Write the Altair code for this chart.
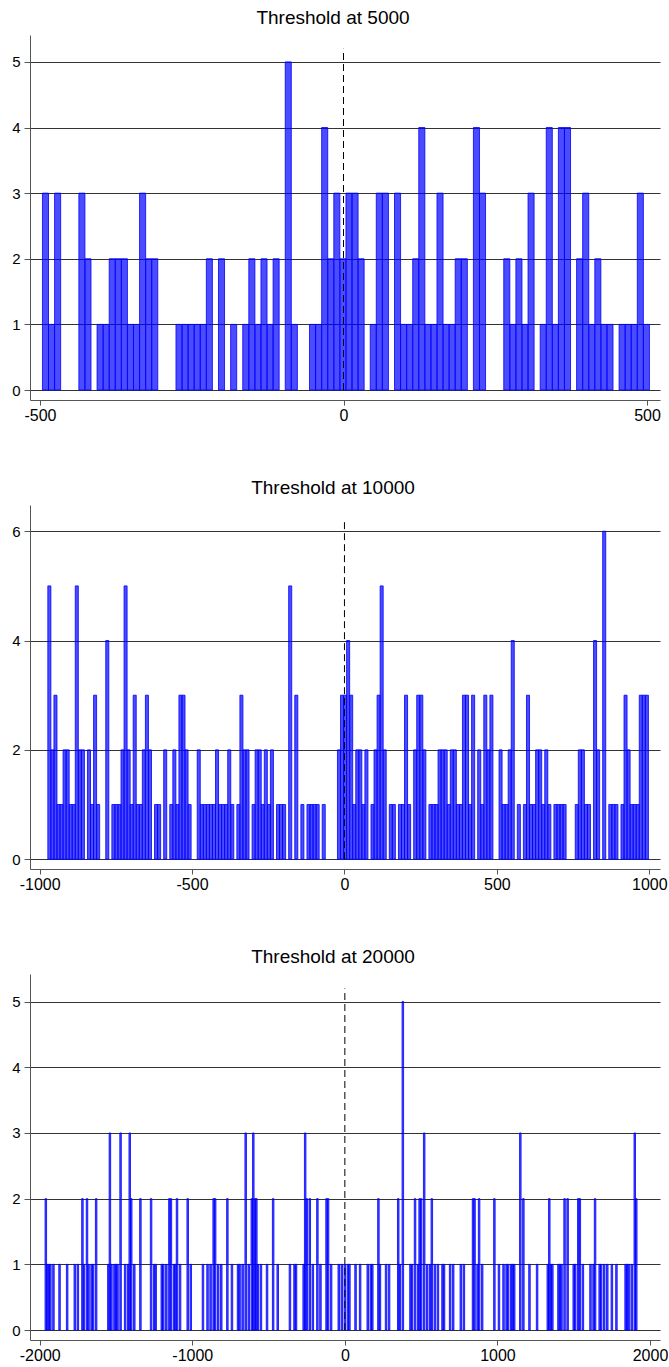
import altair as alt
import pandas as pd

# ---------------- data ----------------
titles = ["Threshold at 5000", "Threshold at 10000", "Threshold at 20000"]

# Panel 1: bins of width 10 starting at -496
p1_start = -496
p1_width = 10
p1_counts = [3, 1, 3, 0, 0, 0, 3, 2, 0, 1,
             1, 2, 2, 2, 1, 1, 3, 2, 2, 0,
             0, 0, 1, 1, 1, 1, 1, 2, 0, 2,
             0, 1, 0, 1, 2, 1, 2, 1, 2, 0,
             5, 1, 0, 0, 1, 1, 4, 2, 3, 2,
             3, 3, 2, 0, 1, 3, 3, 0, 3, 1,
             1, 2, 4, 1, 1, 3, 1, 1, 2, 2,
             0, 4, 3, 0, 0, 0, 2, 1, 2, 1,
             3, 0, 1, 4, 1, 4, 4, 0, 2, 3,
             1, 2, 1, 1, 0, 1, 1, 1, 3, 1]

# Panel 2: bins of width 10 starting at -973
p2_start = -973
p2_width = 10
p2_counts = [5, 2, 3, 1, 1, 2, 2, 1, 1, 5,
             2, 2, 0, 2, 1, 3, 1, 0, 0, 4,
             0, 1, 1, 1, 2, 5, 2, 1, 3, 1,
             1, 2, 3, 2, 0, 1, 1, 0, 2, 0,
             1, 2, 1, 3, 3, 2, 1, 0, 0, 2,
             1, 1, 1, 1, 1, 2, 1, 1, 1, 2,
             1, 0, 1, 3, 2, 2, 0, 1, 2, 2,
             1, 2, 1, 2, 0, 1, 1, 1, 0, 5,
             0, 3, 0, 1, 0, 1, 1, 1, 1, 0,
             1, 0, 0, 0, 0, 2, 3, 3, 4, 3,
             1, 2, 2, 1, 2, 0, 1, 2, 3, 5,
             2, 0, 1, 1, 0, 1, 1, 3, 1, 0,
             2, 3, 3, 2, 0, 1, 1, 1, 2, 2,
             2, 1, 2, 2, 1, 1, 3, 3, 1, 3,
             0, 2, 1, 3, 2, 3, 0, 0, 2, 1,
             1, 2, 4, 0, 1, 0, 1, 3, 1, 1,
             2, 2, 1, 2, 1, 0, 1, 1, 1, 1,
             0, 0, 0, 1, 2, 2, 1, 1, 0, 4,
             2, 0, 6, 0, 1, 1, 1, 0, 1, 3,
             2, 1, 1, 1, 3, 3, 3]

# Panel 3: bins of width 10, non-empty bins only (left edges and counts)
p3_width = 10
p3_edges = [-1965, -1955, -1945, -1935, -1915, -1875, -1825, -1775, -1755, -1725,
            -1715, -1695, -1685, -1665, -1655, -1635, -1555, -1545, -1535, -1515,
            -1505, -1495, -1475, -1445, -1425, -1415, -1405, -1385, -1345, -1275,
            -1255, -1245, -1205, -1195, -1175, -1155, -1145, -1125, -1115, -1105,
            -1085, -1035, -1015, -935, -905, -885, -865, -855, -835, -815,
            -775, -745, -705, -695, -675, -655, -635, -615, -605, -595,
            -585, -575, -555, -515, -475, -445, -365, -335, -325, -275,
            -265, -255, -235, -215, -185, -165, -125, -115, -95, -45,
            -25, -5, 15, 25, 65, 95, 145, 165, 175, 215,
            225, 265, 285, 345, 355, 375, 425, 435, 455, 475,
            485, 495, 515, 535, 555, 565, 585, 605, 635, 645,
            685, 705, 755, 775, 835, 845, 865, 875, 895, 975,
            1005, 1035, 1055, 1065, 1085, 1095, 1105, 1145, 1165, 1205,
            1255, 1325, 1335, 1345, 1355, 1395, 1405, 1415, 1435, 1455,
            1495, 1505, 1525, 1535, 1555, 1605, 1625, 1635, 1665, 1675,
            1695, 1715, 1745, 1775, 1835, 1845, 1855, 1875, 1895, 1905]
p3_counts = [2, 1, 1, 1, 1, 1, 1, 1, 1, 2,
             1, 2, 1, 1, 1, 2, 1, 3, 1, 1,
             1, 1, 3, 1, 1, 3, 2, 1, 2, 2,
             1, 1, 1, 1, 1, 2, 2, 1, 1, 2,
             1, 2, 1, 1, 1, 1, 2, 2, 1, 1,
             2, 1, 1, 1, 1, 3, 1, 2, 3, 2,
             2, 1, 1, 1, 2, 1, 1, 1, 1, 1,
             3, 2, 2, 1, 2, 1, 2, 2, 1, 1,
             1, 1, 1, 1, 1, 1, 1, 1, 1, 2,
             1, 1, 1, 2, 1, 5, 1, 1, 2, 1,
             2, 2, 3, 1, 1, 2, 1, 1, 1, 1,
             1, 1, 1, 1, 2, 2, 1, 2, 1, 2,
             1, 1, 1, 1, 1, 1, 1, 3, 2, 1,
             1, 1, 2, 1, 1, 1, 1, 1, 2, 2,
             1, 1, 2, 2, 1, 1, 1, 2, 1, 1,
             1, 1, 1, 1, 1, 1, 1, 1, 3, 2]

x_ticks = [[-500, 0, 500], [-1000, -500, 0, 500, 1000], [-2000, -1000, 0, 1000, 2000]]
y_ticks = [[0, 1, 2, 3, 4, 5], [0, 2, 4, 6], [0, 1, 2, 3, 4, 5]]

# ---------------- layout / style ----------------
x_domains = [[-516.5, 521.4], [-1031.5, 1035.0], [-2063.6, 2065.5]]
y_domains = [[-0.152, 5.41], [-0.18, 6.48], [-0.152, 5.42]]
rule_tops = [5.2, 6.24, 5.2]
heights = [365, 364, 366]
PLOT_W = 630
FONT = "Liberation Sans"


def frame_from_counts(start, width, counts):
    rows = []
    for i, c in enumerate(counts):
        if c > 0:
            x0 = start + i * width
            rows.append({"x": x0, "x2": x0 + width, "count": c, "base": 0})
    return pd.DataFrame(rows)


def frame_from_edges(edges, width, counts):
    return pd.DataFrame({"x": edges, "x2": [e + width for e in edges],
                         "count": counts, "base": [0] * len(edges)})


frames = [
    frame_from_counts(p1_start, p1_width, p1_counts),
    frame_from_counts(p2_start, p2_width, p2_counts),
    frame_from_edges(p3_edges, p3_width, p3_counts),
]


def panel(i):
    df = frames[i]
    xscale = alt.Scale(domain=x_domains[i], nice=False, zero=False)
    yscale = alt.Scale(domain=y_domains[i], nice=False, zero=False)
    xaxis = alt.Axis(values=x_ticks[i], grid=False, tickSize=5, labelFontSize=16,
                     labelFont=FONT, labelColor="black", domainColor="#555555",
                     tickColor="#555555", labelPadding=2, title=None,
                     labelFlush=False, labelExpr="'' + datum.value")
    yaxis = alt.Axis(values=y_ticks[i], grid=True, gridColor="#333333", gridWidth=1,
                     tickSize=6, labelFontSize=15, labelFont=FONT, labelColor="black",
                     domainColor="#555555", tickColor="#555555", labelPadding=4,
                     title=None, labelFlush=False, labelExpr="'' + datum.value")
    bars = alt.Chart(df).mark_bar(
        fill="#0000ff", fillOpacity=0.7, stroke="#0000ff", strokeWidth=0.8
    ).encode(
        x=alt.X("x:Q", scale=xscale, axis=xaxis),
        x2="x2:Q",
        y=alt.Y("count:Q", scale=yscale, axis=yaxis),
        y2="base:Q",
    )
    rule = alt.Chart(pd.DataFrame({"x": [0], "y0": [0], "y1": [rule_tops[i]]})).mark_rule(
        color="black", strokeWidth=1, strokeDash=[7, 4]
    ).encode(
        x=alt.X("x:Q", scale=xscale),
        y=alt.Y("y0:Q", scale=yscale),
        y2="y1:Q",
    )
    return alt.layer(bars, rule).properties(
        width=PLOT_W, height=heights[i],
        title=alt.TitleParams(titles[i], fontSize=19, font=FONT, fontWeight="normal",
                              anchor="middle", dx=-12, offset=-8, baseline="alphabetic",
                              color="black"),
    )


chart = alt.vconcat(panel(0), panel(1), panel(2), spacing=56).properties(
    padding={"left": 11, "top": 9, "right": 0, "bottom": 0}
).configure_view(stroke=None).configure_concat(spacing=56)

chart.save("out.html", embed_options={"renderer": "svg", "actions": False})
